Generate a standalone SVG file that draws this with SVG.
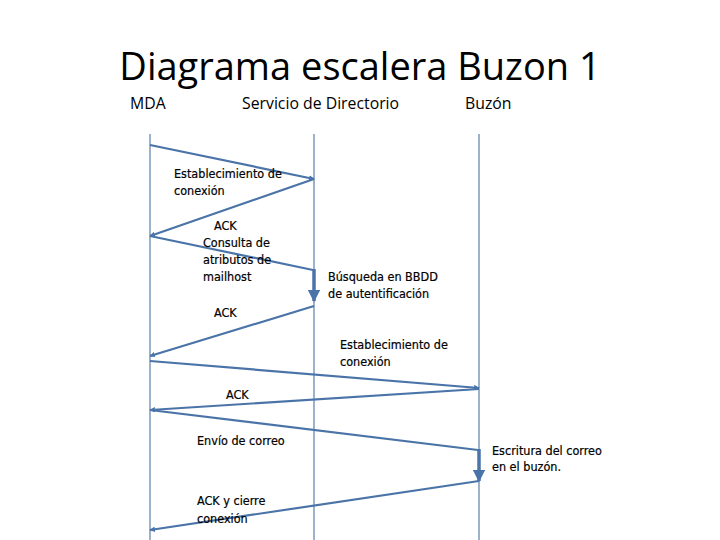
<svg xmlns="http://www.w3.org/2000/svg" width="720" height="540" viewBox="0 0 720 540">
<style>
.title{font-family:"Open Sans","Liberation Sans",sans-serif;font-size:38px;fill:#000}
.hdr{font-family:"Open Sans","Liberation Sans",sans-serif;font-size:15.8px;fill:#000}
.lbl{font-family:"DejaVu Sans Condensed","DejaVu Sans",sans-serif;font-size:12.5px;fill:#000;stroke:#000;stroke-width:0.2}
.life{stroke:#5b7fa8;stroke-width:1.2;fill:none}
.msg{stroke:#4a74a8;stroke-width:2.2;fill:none}
.proc{stroke:#4a74a8;stroke-width:3.5;fill:none}
</style>
<defs>
<marker id="ah" viewBox="0 0 10 10" refX="9" refY="5" markerWidth="2.5" markerHeight="2.5" orient="auto">
<path d="M0,0 L10,5 L0,10 z" fill="#4a74a8"/>
</marker>
<marker id="ahb" viewBox="0 0 10 10" refX="9" refY="5" markerWidth="3.5" markerHeight="3.5" orient="auto">
<path d="M0,0 L10,5 L0,10 z" fill="#4a74a8"/>
</marker>
</defs>
<rect width="720" height="540" fill="#fff"/>
<text class="title" x="360" y="80" text-anchor="middle">Diagrama escalera Buzon 1</text>
<g id="mda"><text class="hdr" x="130" y="109">MDA</text><line class="life" x1="150" y1="134" x2="150" y2="540"/></g>
<g id="directorio"><text class="hdr" x="242" y="109">Servicio de Directorio</text><line class="life" x1="314" y1="134" x2="314" y2="540"/></g>
<g id="buzon"><text class="hdr" x="465" y="109">Buzón</text><line class="life" x1="479" y1="134" x2="479" y2="540"/></g>
<g id="connectors">
<line class="msg" x1="150" y1="145" x2="314" y2="179" marker-end="url(#ah)"/>
<line class="msg" x1="314" y1="179" x2="150" y2="236" marker-end="url(#ah)"/>
<polyline class="msg" points="150,236 313,270"/>
<line class="proc" x1="314" y1="269" x2="314" y2="301" marker-end="url(#ahb)"/>
<line class="msg" x1="314" y1="306" x2="150" y2="356" marker-end="url(#ah)"/>
<line class="msg" x1="150" y1="361" x2="479" y2="388" marker-end="url(#ah)"/>
<line class="msg" x1="479" y1="389" x2="150" y2="410" marker-end="url(#ah)"/>
<polyline class="msg" points="150,410 478,450"/>
<line class="proc" x1="479" y1="449" x2="479" y2="481" marker-end="url(#ahb)"/>
<line class="msg" x1="479" y1="481" x2="150" y2="530" marker-end="url(#ah)"/>
</g>
<g id="labels">
<text class="lbl" x="174" y="178">Establecimiento de</text>
<text class="lbl" x="174" y="195">conexión</text>
<text class="lbl" x="214" y="230">ACK</text>
<text class="lbl" x="203" y="247">Consulta de</text>
<text class="lbl" x="203" y="264">atributos de</text>
<text class="lbl" x="203" y="281">mailhost</text>
<text class="lbl" x="328" y="281">Búsqueda en BBDD</text>
<text class="lbl" x="328" y="298">de autentificación</text>
<text class="lbl" x="214" y="317">ACK</text>
<text class="lbl" x="340" y="349">Establecimiento de</text>
<text class="lbl" x="340" y="366">conexión</text>
<text class="lbl" x="226" y="399">ACK</text>
<text class="lbl" x="197" y="445">Envío de correo</text>
<text class="lbl" x="492" y="455">Escritura del correo</text>
<text class="lbl" x="492" y="471">en el buzón.</text>
<text class="lbl" x="197" y="505">ACK y cierre</text>
<text class="lbl" x="197" y="523">conexión</text>
</g>
</svg>
